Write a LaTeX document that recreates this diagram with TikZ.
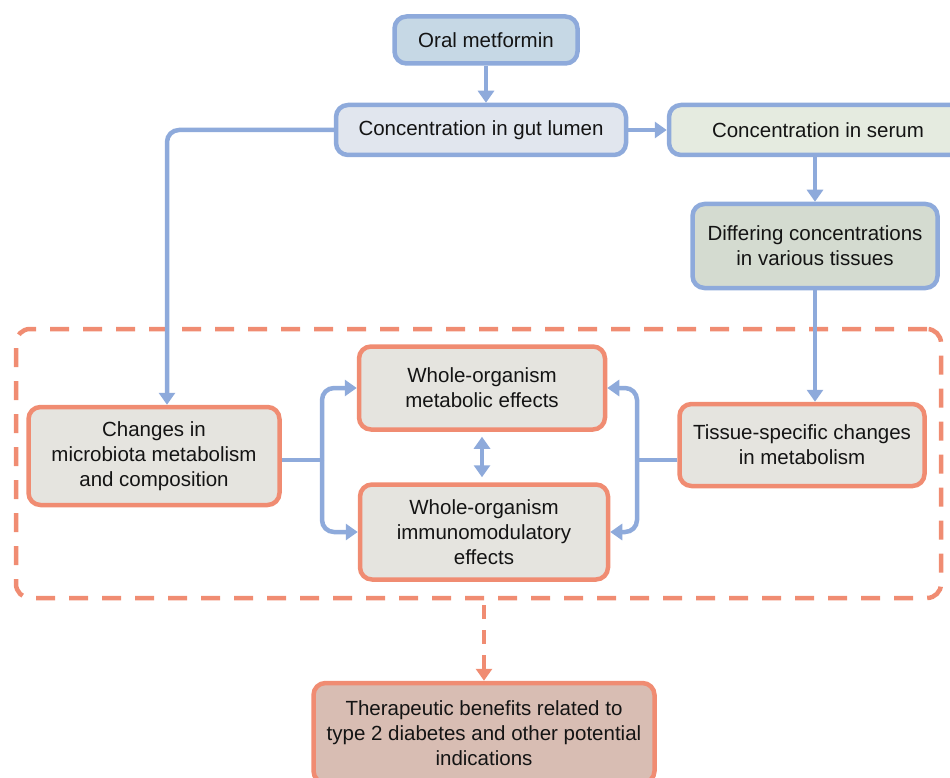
\documentclass[tikz,border=0pt]{standalone}
\usepackage{fontspec}
\setmainfont{Liberation Sans}
\usetikzlibrary{arrows.meta,positioning}
\definecolor{flowblue}{HTML}{8EAADB}
\definecolor{boxorange}{HTML}{F08C72}
\definecolor{oralfill}{HTML}{C6D8E5}
\definecolor{gutfill}{HTML}{E1E6EE}
\definecolor{serumfill}{HTML}{E5EBE0}
\definecolor{tissuefill}{HTML}{D4DBD0}
\definecolor{effectfill}{HTML}{E5E4DF}
\definecolor{benefitfill}{HTML}{D8BDB3}
\tikzset{
  box/.style={rounded corners=12pt, line width=4.5pt, align=center, inner sep=0pt,
    text=black!92, font=\fontsize{20.5}{25}\selectfont},
  bluebox/.style={box, draw=flowblue},
  redbox/.style={box, draw=boxorange, fill=effectfill},
  dashbox/.style={draw=boxorange, line width=4.5pt, rounded corners=14pt,
    dash pattern=on 19pt off 14pt, inner sep=0pt},
  flow/.style={draw=flowblue, line width=4.5pt, rounded corners=12pt,
    -{Triangle[width=16pt,length=12pt]}},
  bothflow/.style={draw=flowblue, line width=4.5pt, shorten <=5pt, shorten >=5pt,
    {Triangle[width=16pt,length=12pt]}-{Triangle[width=16pt,length=12pt]}},
  dashflow/.style={draw=boxorange, line width=4.5pt, dash pattern=on 14pt off 11pt,
    shorten <=5pt, -{Triangle[width=16pt,length=12pt]}}
}

\begin{document}
\begin{tikzpicture}[x=1pt,y=-1pt]
  \useasboundingbox (0,0) rectangle (950,778);
  \clip (0,0) rectangle (950,778);
  \node[bluebox, fill=oralfill, minimum width=183pt, minimum height=47pt] (oral) at (486,40) {Oral metformin};
  \node[bluebox, fill=gutfill, minimum width=290pt, minimum height=50pt] (gut) at (481,130) {Concentration in gut lumen};
  \node[bluebox, fill=serumfill, minimum width=298pt, minimum height=50pt] (serum) at (818,130) {Concentration in serum};
  \node[bluebox, fill=tissuefill, minimum width=245pt, minimum height=84pt] (tissues) at (815,246) {Differing concentrations\\in various tissues};
  \node[dashbox, minimum width=925pt, minimum height=269pt] (effects) at (478.5,463.5) {};
  \node[redbox, minimum width=251pt, minimum height=98pt] (microbiota) at (154,456) {Changes in\\microbiota metabolism\\and composition};
  \node[redbox, minimum width=246pt, minimum height=83pt] (metabolic) at (482,388) {Whole-organism\\metabolic effects};
  \node[redbox, minimum width=248pt, minimum height=95pt] (immuno) at (484,532) {Whole-organism\\immunomodulatory\\effects};
  \node[redbox, minimum width=245pt, minimum height=82pt] (tissuechg) at (802,445) {Tissue-specific changes\\in metabolism};
  \node[redbox, fill=benefitfill, minimum width=341pt, minimum height=100pt] (benefits) at (484,733) {Therapeutic benefits related to\\type 2 diabetes and other potential\\indications};

  \coordinate (lfork) at (322,460);
  \coordinate (rfork) at (637,460);

  \draw[flow] (oral.south) -- (oral.south |- gut.north);
  \draw[flow] (gut.east) -- (serum.west);
  \draw[flow] (tissues.north |- serum.south) -- (tissues.north);
  \draw[flow] (tissues.south) -- (tissues.south |- tissuechg.north);
  \draw[flow] (gut.west) -| ([xshift=13pt]microbiota.north);
  \draw[flowblue, line width=4.5pt] (microbiota.east |- lfork) -- (lfork);
  \draw[flow] (lfork) |- (metabolic.west);
  \draw[flow] (lfork) |- (immuno.west);
  \draw[flowblue, line width=4.5pt] (tissuechg.west |- rfork) -- (rfork);
  \draw[flow] (rfork) |- (metabolic.east);
  \draw[flow] (rfork) |- (immuno.east);
  \draw[bothflow] (metabolic.south) -- (metabolic.south |- immuno.north);
  \draw[dashflow] (effects.south -| benefits.north) -- (benefits.north);
\end{tikzpicture}
\end{document}
